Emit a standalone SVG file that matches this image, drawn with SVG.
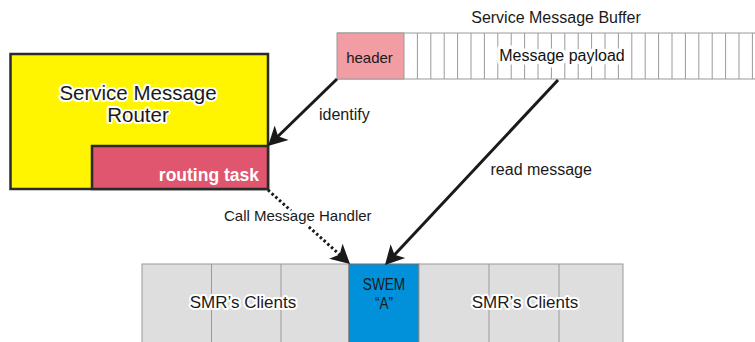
<svg xmlns="http://www.w3.org/2000/svg" width="755" height="342" viewBox="0 0 755 342">
  <style>
    text { font-family: "Liberation Sans", Arial, sans-serif; fill: #1a1a1a; }
    .halo { paint-order: stroke; stroke: #ffffff; stroke-width: 4px; stroke-linejoin: round; }
    .cell { stroke: #9a9a9a; stroke-width: 1; }
    .client { fill: #dedede; stroke: #9a9a9a; stroke-width: 1; }
    .frame { stroke: #2a2a2a; stroke-width: 2.5; }
    .wire { fill: none; stroke: #1a1a1a; stroke-width: 3; }
    .dotted { stroke-dasharray: 2.5 2.5; }
  </style>
  <defs>
    <marker id="head" markerUnits="userSpaceOnUse" orient="auto" refX="0" refY="0" markerWidth="30" markerHeight="30" overflow="visible">
      <path d="M10,0 L-9,-10 L-4,0 L-9,10 Z" fill="#1a1a1a"/>
    </marker>
  </defs>

  <rect width="755" height="342" fill="#ffffff"/>

  <!-- message buffer: header cell followed by payload cells -->
  <g id="buffer">
    <text x="556" y="22.5" font-size="16" text-anchor="middle">Service Message Buffer</text>
    <line class="cell" x1="337" y1="33" x2="755" y2="33"/>
    <line class="cell" x1="337" y1="79" x2="755" y2="79"/>
    <g class="cell">
      <line x1="417.4" y1="33" x2="417.4" y2="79"/>
      <line x1="430.8" y1="33" x2="430.8" y2="79"/>
      <line x1="444.2" y1="33" x2="444.2" y2="79"/>
      <line x1="457.6" y1="33" x2="457.6" y2="79"/>
      <line x1="471" y1="33" x2="471" y2="79"/>
      <line x1="484.4" y1="33" x2="484.4" y2="79"/>
      <line x1="497.8" y1="33" x2="497.8" y2="79"/>
      <line x1="511.2" y1="33" x2="511.2" y2="79"/>
      <line x1="524.6" y1="33" x2="524.6" y2="79"/>
      <line x1="538" y1="33" x2="538" y2="79"/>
      <line x1="551.4" y1="33" x2="551.4" y2="79"/>
      <line x1="564.8" y1="33" x2="564.8" y2="79"/>
      <line x1="578.2" y1="33" x2="578.2" y2="79"/>
      <line x1="591.6" y1="33" x2="591.6" y2="79"/>
      <line x1="605" y1="33" x2="605" y2="79"/>
      <line x1="618.4" y1="33" x2="618.4" y2="79"/>
      <line x1="631.8" y1="33" x2="631.8" y2="79"/>
      <line x1="645.2" y1="33" x2="645.2" y2="79"/>
      <line x1="658.6" y1="33" x2="658.6" y2="79"/>
      <line x1="672" y1="33" x2="672" y2="79"/>
      <line x1="685.4" y1="33" x2="685.4" y2="79"/>
      <line x1="698.8" y1="33" x2="698.8" y2="79"/>
      <line x1="712.2" y1="33" x2="712.2" y2="79"/>
      <line x1="725.6" y1="33" x2="725.6" y2="79"/>
      <line x1="739" y1="33" x2="739" y2="79"/>
      <line x1="752.4" y1="33" x2="752.4" y2="79"/>
    </g>
    <text class="halo" x="562" y="61" font-size="16" text-anchor="middle" style="stroke-width:7px;fill:#111111">Message payload</text>
  </g>

  <g id="header">
    <rect x="337" y="33" width="67" height="46" fill="#f29ca3" stroke="#9a9a9a" stroke-width="1"/>
    <text x="369.5" y="63" font-size="15" text-anchor="middle">header</text>
  </g>

  <!-- router with its routing task in the lower right corner -->
  <g id="router">
    <rect class="frame" x="10.5" y="54" width="257.5" height="135" fill="#fff500"/>
    <text class="halo" x="138" y="100" font-size="20.5" text-anchor="middle">Service Message</text>
    <text class="halo" x="138" y="122" font-size="20.5" text-anchor="middle">Router</text>
  </g>

  <g id="routing-task">
    <rect class="frame" x="92" y="146" width="176" height="43" fill="#e0566e"/>
    <text x="259" y="181" font-size="17.5" font-weight="bold" text-anchor="end" style="fill:#ffffff">routing task</text>
  </g>

  <!-- client row -->
  <g id="clients-left">
    <rect class="client" x="142" y="264" width="207" height="90"/>
    <line class="cell" x1="211.5" y1="264" x2="211.5" y2="342"/>
    <line class="cell" x1="281" y1="264" x2="281" y2="342"/>
    <text class="halo" x="243" y="308" font-size="17" text-anchor="middle">SMR’s Clients</text>
  </g>

  <g id="swem">
    <rect x="349" y="264" width="70" height="90" fill="#0091da" stroke="#6a6a6a" stroke-width="1"/>
    <text transform="translate(384,290) scale(0.8,1)" font-size="17" text-anchor="middle">SWEM</text>
    <text transform="translate(384,309) scale(0.8,1)" font-size="17" text-anchor="middle">“A”</text>
  </g>

  <g id="clients-right">
    <rect class="client" x="419" y="264" width="204" height="90"/>
    <line class="cell" x1="489" y1="264" x2="489" y2="342"/>
    <line class="cell" x1="559" y1="264" x2="559" y2="342"/>
    <text class="halo" x="525" y="308" font-size="17" text-anchor="middle">SMR’s Clients</text>
  </g>

  <!-- connectors -->
  <g id="connectors">
    <line class="wire" x1="337" y1="79" x2="275.2" y2="139" marker-end="url(#head)"/>
    <text x="319" y="120" font-size="16">identify</text>

    <line class="wire" x1="558" y1="80" x2="391.8" y2="257.7" marker-end="url(#head)"/>
    <text x="490.5" y="175" font-size="16">read message</text>

    <line class="wire dotted" x1="268" y1="190" x2="342.6" y2="257.3" marker-end="url(#head)"/>
    <text class="halo" x="224" y="221" font-size="15" style="stroke-width:6px">Call Message Handler</text>
  </g>
</svg>
